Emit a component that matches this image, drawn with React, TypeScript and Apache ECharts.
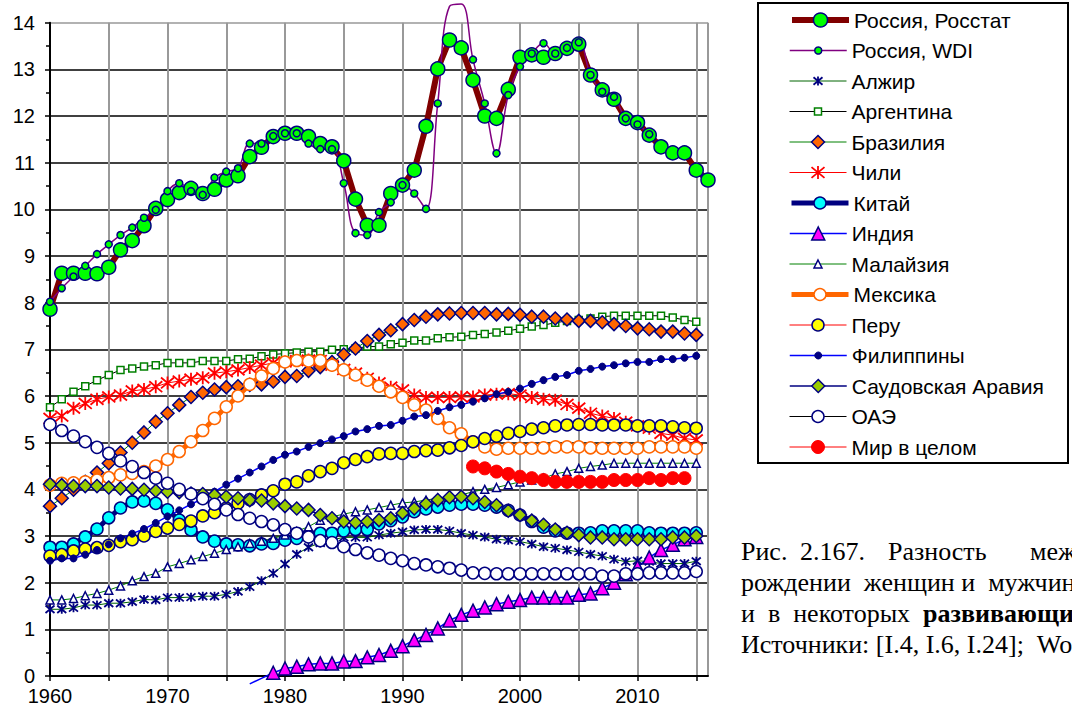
import React, { useEffect, useRef } from "react";
import * as echarts from "echarts";

const FONT = '"Liberation Sans", Arial, sans-serif';
const SERIF = '"Liberation Serif", "Times New Roman", serif';

// ---- data (value = female minus male life expectancy at birth, years) ----
const rosstatStart = 1960;
const rosstat = [7.86, 8.63, 8.63, 8.63, 8.62, 8.76, 9.13, 9.33, 9.65, 10.02,
  10.21, 10.36, 10.45, 10.34, 10.43, 10.63, 10.72, 11.13, 11.33, 11.56,
  11.63, 11.63, 11.56, 11.41, 11.34, 11.04, 10.22, 9.66, 9.66, 10.34,
  10.52, 10.84, 11.78, 13.01, 13.63, 13.46, 12.77, 12.0, 11.95, 12.57,
  13.26, 13.31, 13.26, 13.34, 13.45, 13.54, 12.88, 12.56, 12.36, 11.95,
  11.86, 11.59, 11.34, 11.21, 11.21, 10.84, 10.63];

const wdiStart = 1960;
const wdi = [8.02, 8.31, 8.56, 8.79, 9.04, 9.25, 9.45, 9.61, 9.82, 9.99,
  10.39, 10.56, 10.39, 10.31, 10.68, 10.81, 10.88, 11.41, 11.41, 11.57,
  11.63, 11.63, 11.41, 11.29, 11.29, 10.56, 9.49, 9.45, 9.94, 10.15,
  10.52, 10.34, 10.01, 12.27, 14.35, 14.4, 13.21, 12.27, 11.2, 12.45,
  13.06, 13.34, 13.56, 13.34, 13.46, 13.58, 12.88, 12.52, 12.41, 11.95,
  11.82, 11.61];

const algeriaStart = 1960;
const algeria = [1.43, 1.43, 1.46, 1.52, 1.52, 1.56, 1.56, 1.59, 1.64, 1.63,
  1.68, 1.68, 1.69, 1.71, 1.71, 1.75, 1.81, 1.91, 2.04, 2.2,
  2.4, 2.61, 2.76, 2.85, 2.92, 2.97, 2.97, 2.97, 3.02, 3.06,
  3.09, 3.13, 3.14, 3.14, 3.11, 3.06, 3.02, 2.98, 2.93, 2.91,
  2.88, 2.83, 2.77, 2.74, 2.7, 2.66, 2.61, 2.57, 2.5, 2.45,
  2.47, 2.45, 2.41, 2.41, 2.41, 2.46];

const argentinaStart = 1960;
const argentina = [5.76, 5.93, 6.09, 6.21, 6.34, 6.45, 6.56, 6.59, 6.63, 6.66,
  6.71, 6.71, 6.71, 6.75, 6.75, 6.75, 6.79, 6.8, 6.85, 6.89,
  6.91, 6.93, 6.95, 6.95, 6.99, 7.0, 7.02, 7.06, 7.06, 7.11,
  7.14, 7.19, 7.19, 7.24, 7.26, 7.27, 7.31, 7.33, 7.36, 7.4,
  7.44, 7.49, 7.52, 7.57, 7.61, 7.63, 7.66, 7.7, 7.72, 7.72,
  7.72, 7.72, 7.72, 7.68, 7.63, 7.59];

const brazilStart = 1960;
const brazil = [3.64, 3.81, 3.99, 4.16, 4.36, 4.56, 4.79, 5.0, 5.22, 5.45,
  5.63, 5.81, 5.98, 6.07, 6.14, 6.19, 6.21, 6.24, 6.25, 6.31,
  6.41, 6.43, 6.54, 6.62, 6.73, 6.89, 7.02, 7.18, 7.31, 7.41,
  7.54, 7.63, 7.7, 7.75, 7.77, 7.78, 7.78, 7.78, 7.75, 7.76,
  7.74, 7.7, 7.7, 7.66, 7.64, 7.61, 7.61, 7.58, 7.54, 7.5,
  7.45, 7.43, 7.38, 7.38, 7.34, 7.31];

const chileStart = 1960;
const chile = [5.52, 5.57, 5.74, 5.84, 5.93, 5.98, 6.02, 6.11, 6.14, 6.2,
  6.28, 6.32, 6.36, 6.39, 6.49, 6.52, 6.56, 6.61, 6.66, 6.71,
  6.73, 6.76, 6.77, 6.76, 6.66, 6.57, 6.49, 6.38, 6.28, 6.19,
  6.13, 6.02, 5.97, 5.97, 5.97, 5.98, 5.98, 6.02, 6.04, 6.05,
  6.02, 5.97, 5.93, 5.91, 5.82, 5.74, 5.63, 5.57, 5.52, 5.44,
  5.36, 5.31, 5.2, 5.16, 5.09, 5.06];

const chinaStart = 1960;
const china = [2.76, 2.76, 2.83, 2.98, 3.15, 3.39, 3.6, 3.73, 3.75, 3.7,
  3.56, 3.34, 3.13, 2.98, 2.89, 2.83, 2.81, 2.79, 2.83, 2.84,
  2.91, 2.95, 3.02, 3.06, 3.06, 3.11, 3.14, 3.14, 3.26, 3.33,
  3.41, 3.52, 3.58, 3.62, 3.66, 3.68, 3.68, 3.66, 3.62, 3.55,
  3.45, 3.31, 3.19, 3.11, 3.06, 3.06, 3.07, 3.11, 3.11, 3.11,
  3.11, 3.07, 3.06, 3.06, 3.06, 3.07];

const indiaStart = 1977;
const india = [-0.17, -0.05, 0.07,
  0.16, 0.2, 0.25, 0.27, 0.27, 0.31, 0.32, 0.4, 0.45, 0.54,
  0.64, 0.77, 0.88, 1.02, 1.19, 1.31, 1.4, 1.47, 1.54, 1.59,
  1.63, 1.68, 1.68, 1.68, 1.68, 1.74, 1.77, 1.88, 2.0, 2.18,
  2.34, 2.54, 2.7, 2.81, 2.93, 2.98];

const malaysiaStart = 1960;
const malaysia = [1.63, 1.63, 1.66, 1.72, 1.77, 1.84, 1.93, 2.04, 2.13, 2.2,
  2.34, 2.41, 2.49, 2.56, 2.63, 2.71, 2.77, 2.84, 2.89, 2.95,
  3.02, 3.1, 3.2, 3.34, 3.41, 3.47, 3.52, 3.56, 3.61, 3.66,
  3.71, 3.73, 3.77, 3.81, 3.84, 3.88, 3.95, 4.0, 4.04, 4.1,
  4.16, 4.2, 4.24, 4.33, 4.38, 4.45, 4.49, 4.52, 4.56, 4.56,
  4.56, 4.56, 4.56, 4.56, 4.56, 4.56];

const mexicoStart = 1960;
const mexico = [4.09, 4.13, 4.14, 4.16, 4.2, 4.25, 4.31, 4.34, 4.38, 4.5,
  4.64, 4.81, 5.02, 5.26, 5.52, 5.77, 6.0, 6.25, 6.43, 6.59,
  6.73, 6.76, 6.75, 6.76, 6.66, 6.56, 6.45, 6.34, 6.21, 6.09,
  5.97, 5.81, 5.7, 5.52, 5.32, 5.19, 5.02, 4.91, 4.86, 4.88,
  4.88, 4.88, 4.89, 4.91, 4.91, 4.91, 4.89, 4.88, 4.88, 4.88,
  4.88, 4.91, 4.91, 4.91, 4.91, 4.88];

const peruStart = 1960;
const peru = [2.57, 2.6, 2.68, 2.72, 2.75, 2.8, 2.88, 2.92, 3.0, 3.1,
  3.17, 3.25, 3.32, 3.43, 3.5, 3.6, 3.7, 3.78, 3.88, 3.97,
  4.11, 4.16, 4.29, 4.38, 4.45, 4.57, 4.64, 4.7, 4.76, 4.77,
  4.77, 4.81, 4.83, 4.84, 4.89, 4.94, 5.02, 5.09, 5.14, 5.2,
  5.24, 5.29, 5.32, 5.36, 5.38, 5.39, 5.39, 5.38, 5.38, 5.38,
  5.36, 5.36, 5.36, 5.34, 5.32, 5.31];

const philippinesStart = 1960;
const philippines = [2.47, 2.52, 2.52, 2.6, 2.7, 2.82, 2.95, 3.05, 3.15, 3.28,
  3.42, 3.55, 3.68, 3.8, 3.95, 4.1, 4.23, 4.36, 4.49, 4.63,
  4.74, 4.81, 4.91, 4.99, 5.07, 5.14, 5.24, 5.29, 5.36, 5.38,
  5.47, 5.56, 5.59, 5.68, 5.76, 5.81, 5.88, 5.95, 6.04, 6.09,
  6.16, 6.26, 6.34, 6.41, 6.45, 6.54, 6.58, 6.63, 6.66, 6.7,
  6.73, 6.73, 6.79, 6.79, 6.82, 6.86];

const saudiStart = 1960;
const saudi = [4.11, 4.09, 4.07, 4.07, 4.07, 4.04, 4.02, 4.01, 3.99, 3.97,
  3.95, 3.94, 3.91, 3.9, 3.88, 3.84, 3.81, 3.77, 3.76, 3.7,
  3.64, 3.59, 3.56, 3.45, 3.38, 3.31, 3.29, 3.31, 3.34, 3.38,
  3.49, 3.59, 3.69, 3.77, 3.83, 3.84, 3.81, 3.73, 3.66, 3.54,
  3.45, 3.33, 3.24, 3.14, 3.07, 3.02, 2.97, 2.97, 2.93, 2.93,
  2.93, 2.93, 2.93, 2.97, 2.97, 3.0];

const uaeStart = 1960;
const uae = [5.39, 5.26, 5.14, 5.02, 4.9, 4.77, 4.61, 4.49, 4.36, 4.24,
  4.13, 4.0, 3.9, 3.8, 3.68, 3.56, 3.46, 3.38, 3.31, 3.24,
  3.14, 3.06, 2.98, 2.9, 2.86, 2.77, 2.71, 2.64, 2.59, 2.52,
  2.47, 2.41, 2.38, 2.34, 2.31, 2.27, 2.21, 2.2, 2.19, 2.19,
  2.19, 2.19, 2.19, 2.19, 2.19, 2.19, 2.19, 2.14, 2.14, 2.19,
  2.19, 2.21, 2.21, 2.21, 2.21, 2.24];

const worldStart = 1996;
const world = [4.49, 4.45, 4.38, 4.33,
  4.27, 4.24, 4.2, 4.16, 4.16, 4.16, 4.16, 4.16, 4.2, 4.2,
  4.2, 4.24, 4.2, 4.24, 4.24];

const yTicks = [0, 14, 1];
const xTicks = [1960, 2016, 5];

const captionLine1 = ["Рис.", "2.167.", "Разность", "между", "ожидаемой"];
const captionLine2 = "рождении  женщин и  мужчин  в  России";
const captionLine3a = "и  в  некоторых  ";
const captionLine3b = "развивающихся стран";
const captionLine4 = "Источники: [I.4, I.6, I.24];  World Bank";

const STAR = "path://M0,0L10,10M10,0L0,10M5,-1L5,11";

type Def = {
  name: string; start: number; values: number[];
  line: string; lw: number; symbol: string; size: number;
  fill: string; border: string; bw: number; smooth?: boolean; clip?: boolean;
};

const defs: Def[] = [
  { name: "Россия, Росстат", start: rosstatStart, values: rosstat, line: "#800000", lw: 6, symbol: "circle", size: 14, fill: "#00FF00", border: "#000080", bw: 1.5 },
  { name: "Россия, WDI", start: wdiStart, values: wdi, line: "#800080", lw: 1.5, symbol: "circle", size: 7, fill: "#00FF00", border: "#000080", bw: 1.5, smooth: true, clip: false },
  { name: "Алжир", start: algeriaStart, values: algeria, line: "#006400", lw: 1, symbol: STAR, size: 9, fill: "#000080", border: "#000080", bw: 1.8 },
  { name: "Аргентина", start: argentinaStart, values: argentina, line: "#000000", lw: 1, symbol: "rect", size: 7, fill: "#FFFFFF", border: "#008000", bw: 1.5 },
  { name: "Бразилия", start: brazilStart, values: brazil, line: "#008000", lw: 1, symbol: "diamond", size: 13, fill: "#FF6600", border: "#000080", bw: 1.5 },
  { name: "Чили", start: chileStart, values: chile, line: "#FF0000", lw: 1, symbol: STAR, size: 13, fill: "#FF0000", border: "#FF0000", bw: 1.8 },
  { name: "Китай", start: chinaStart, values: china, line: "#000080", lw: 5, symbol: "circle", size: 12, fill: "#00FFFF", border: "#000080", bw: 1.5 },
  { name: "Индия", start: indiaStart, values: india, line: "#0000FF", lw: 1.5, symbol: "triangle", size: 13, fill: "#FF00FF", border: "#000080", bw: 1.5, clip: false },
  { name: "Малайзия", start: malaysiaStart, values: malaysia, line: "#008000", lw: 1, symbol: "triangle", size: 8, fill: "#FFFFFF", border: "#000080", bw: 1.5 },
  { name: "Мексика", start: mexicoStart, values: mexico, line: "#FF6600", lw: 5, symbol: "circle", size: 12, fill: "#FFFFFF", border: "#FF6600", bw: 1.5 },
  { name: "Перу", start: peruStart, values: peru, line: "#FF0000", lw: 1, symbol: "circle", size: 12, fill: "#FFFF00", border: "#000080", bw: 1.5 },
  { name: "Филиппины", start: philippinesStart, values: philippines, line: "#0000FF", lw: 1.5, symbol: "circle", size: 7, fill: "#000080", border: "#000080", bw: 1 },
  { name: "Саудовская Аравия", start: saudiStart, values: saudi, line: "#000080", lw: 1.5, symbol: "diamond", size: 13, fill: "#99CC00", border: "#000080", bw: 1.5 },
  { name: "ОАЭ", start: uaeStart, values: uae, line: "#000000", lw: 1, symbol: "circle", size: 12, fill: "#FFFFFF", border: "#000080", bw: 1.5 },
  { name: "Мир в целом", start: worldStart, values: world, line: "#FF0000", lw: 1, symbol: "circle", size: 13, fill: "#FF0000", border: "#FF0000", bw: 1 },
];

function buildOption() {
  const series = defs.map((d) => ({
    type: "line",
    name: d.name,
    data: d.values.map((v, i) => {
      const yr = d.start + i;
      if (v > 14 || v < 0) return { value: [yr, v], symbol: "none" };
      return [yr, v];
    }),
    symbol: d.symbol,
    symbolSize: d.size,
    showAllSymbol: true,
    smooth: d.smooth ? 0.4 : false,
    clip: d.clip === false ? false : true,
    lineStyle: { color: d.line, width: d.lw },
    itemStyle: { color: d.fill, borderColor: d.border, borderWidth: d.bw },
    emphasis: { disabled: true },
    z: 2,
  }));

  const legends = defs.map((d, i) => ({
    left: 789,
    top: 20 + 30.5 * i - 11,
    orient: "horizontal",
    itemWidth: 57,
    itemHeight: d.size / 0.8,
    itemGap: 0,
    padding: 0,
    selectedMode: false,
    data: [d.name],
    textStyle: { fontSize: 21, fontFamily: FONT, color: "#000", lineHeight: 22 },
    lineStyle: { width: "inherit" },
    itemStyle: { borderWidth: "inherit" },
  }));

  const ySplitColors: string[] = [];
  for (let v = yTicks[0]; v < yTicks[1]; v += yTicks[2]) ySplitColors.push("#000000");
  ySplitColors.push("#999999");

  const CAP = 26;
  const line1X = [741, 800, 888, 1030, 1140];
  const graphics: any[] = [
    {
      type: "rect",
      shape: { x: 758, y: 3, width: 310, height: 460 },
      style: { fill: "none", stroke: "#000", lineWidth: 2 },
      silent: true,
    },
  ];
  captionLine1.forEach((w, i) => {
    graphics.push({
      type: "text", x: line1X[i], y: 551,
      style: { text: w, font: `${CAP}px ${SERIF}`, fill: "#000", textVerticalAlign: "middle" },
    });
  });
  graphics.push({
    type: "text", x: 741, y: 582,
    style: { text: captionLine2, font: `${CAP}px ${SERIF}`, fill: "#000", textVerticalAlign: "middle" },
  });
  graphics.push({
    type: "text", x: 741, y: 613,
    style: {
      text: captionLine3a + "{b|" + captionLine3b + "}",
      fontSize: CAP, fontFamily: SERIF, fill: "#000", textVerticalAlign: "middle",
      rich: { b: { fontSize: CAP, fontFamily: SERIF, fontWeight: "bold", fill: "#000" } },
    },
  });
  graphics.push({
    type: "text", x: 741, y: 644,
    style: { text: captionLine4, font: `${CAP}px ${SERIF}`, fill: "#000", textVerticalAlign: "middle" },
  });

  return {
    animation: false,
    backgroundColor: "#fff",
    grid: { left: 50, right: 364, top: 22.7, bottom: 35, containLabel: false },
    legend: legends,
    xAxis: {
      type: "value",
      min: xTicks[0],
      max: xTicks[1],
      interval: xTicks[2],
      axisLine: { show: true, onZero: false, lineStyle: { color: "#000", width: 2 } },
      axisTick: { show: true, length: 5, lineStyle: { color: "#000", width: 1.5 } },
      axisLabel: {
        fontSize: 20, fontFamily: FONT, color: "#000", margin: 10,
        formatter: (v: number) => (v % 10 === 0 ? String(v) : ""),
        showMaxLabel: false,
      },
      splitLine: { show: true, lineStyle: { color: "#999999", width: 2 } },
    },
    yAxis: {
      type: "value",
      min: yTicks[0],
      max: yTicks[1],
      interval: yTicks[2],
      axisLine: { show: true, lineStyle: { color: "#000", width: 2 } },
      axisTick: { show: true, length: 5, lineStyle: { color: "#000", width: 1.5 } },
      minorTick: { show: true, splitNumber: 2, length: 4, lineStyle: { color: "#000", width: 1.5 } },
      axisLabel: { fontSize: 20, fontFamily: FONT, color: "#000", margin: 15 },
      splitLine: { show: true, lineStyle: { color: ySplitColors, width: 1.5 } },
    },
    graphic: graphics,
    series,
  };
}

export default function App() {
  const ref = useRef<HTMLDivElement>(null);
  useEffect(() => {
    if (!ref.current) return;
    const chart = echarts.init(ref.current, undefined, { renderer: "svg" });
    chart.setOption(buildOption() as any);
    return () => chart.dispose();
  }, []);
  return (
    <div
      ref={ref}
      style={{ position: "absolute", left: 0, top: 0, width: 1072, height: 711, background: "#fff" }}
    />
  );
}
